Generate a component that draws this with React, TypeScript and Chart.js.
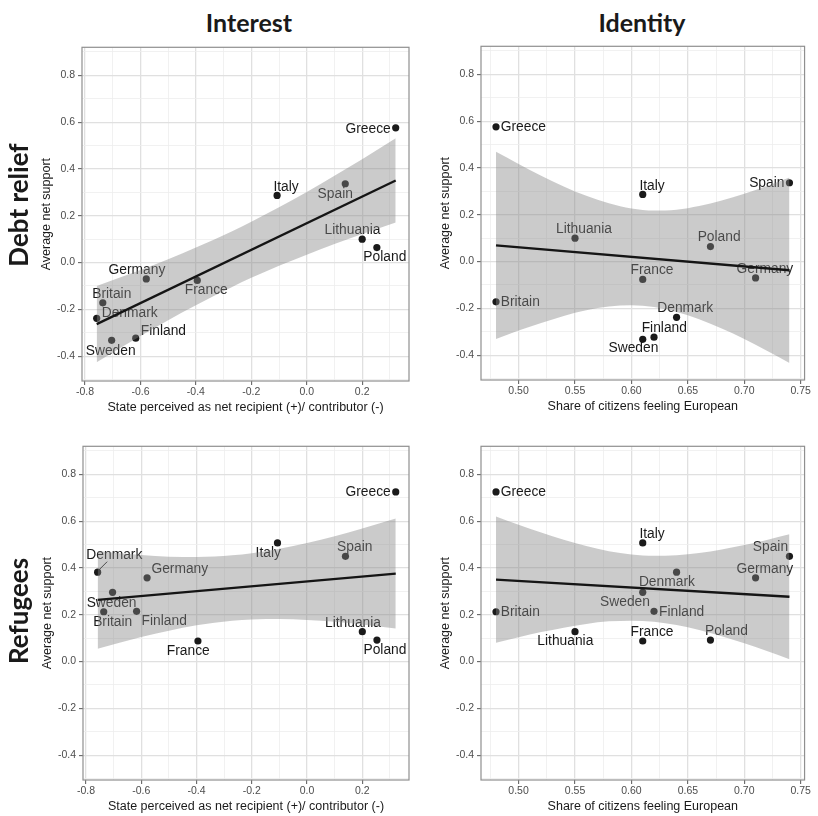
import React, { useEffect, useRef } from 'react';
import { Chart, registerables } from 'chart.js';

Chart.register(...registerables);

// ---------------- data ----------------
const COUNTRIES = ['Greece', 'Italy', 'Spain', 'Lithuania', 'Poland', 'Germany', 'France', 'Britain', 'Denmark', 'Finland', 'Sweden'];
// State perceived as net recipient (+) / contributor (-)
const NET_RECIPIENT = [0.321, -0.107, 0.139, 0.2, 0.253, -0.579, -0.395, -0.736, -0.758, -0.617, -0.704];
// Share of citizens feeling European
const FEEL_EUROPEAN = [0.48, 0.61, 0.74, 0.55, 0.67, 0.71, 0.61, 0.48, 0.64, 0.62, 0.61];
// Average net support
const DEBT_SUPPORT = [0.576, 0.287, 0.337, 0.1, 0.064, -0.07, -0.076, -0.172, -0.238, -0.323, -0.332];
const REFUGEE_SUPPORT = [0.725, 0.507, 0.45, 0.128, 0.092, 0.358, 0.088, 0.213, 0.382, 0.215, 0.296];

// fitted lines
const INTEREST_FIT_X = [-0.758, 0.321];
const EUROPE_FIT_X = [0.48, 0.74];
const DEBT_INTEREST_FIT_Y = [-0.263, 0.351];
const DEBT_EUROPE_FIT_Y = [0.069, -0.037];
const REFUGEE_INTEREST_FIT_Y = [0.2635, 0.376];
const REFUGEE_EUROPE_FIT_Y = [0.35, 0.277];

// confidence bands
const INTEREST_BAND_X = [-0.758, -0.6, -0.5, -0.4, -0.271, -0.2, -0.1, 0, 0.1, 0.2, 0.321];
const DEBT_INTEREST_BAND_UP = [-0.1, -0.032, 0.014, 0.064, 0.133, 0.175, 0.237, 0.302, 0.371, 0.442, 0.531];
const DEBT_INTEREST_BAND_LO = [-0.426, -0.314, -0.246, -0.182, -0.105, -0.065, -0.013, 0.034, 0.079, 0.122, 0.171];
const REFUGEE_INTEREST_BAND_UP = [0.4725, 0.455, 0.448, 0.447, 0.454, 0.463, 0.482, 0.507, 0.536, 0.569, 0.611];
const REFUGEE_INTEREST_BAND_LO = [0.0545, 0.105, 0.132, 0.155, 0.174, 0.18, 0.182, 0.178, 0.17, 0.158, 0.141];

const EUROPE_BAND_X = [0.48, 0.5, 0.52, 0.54, 0.56, 0.58, 0.6, 0.62, 0.64, 0.66, 0.68, 0.7, 0.72, 0.74];
const DEBT_EUROPE_BAND_UP = [0.469, 0.417, 0.367, 0.321, 0.281, 0.249, 0.227, 0.218, 0.222, 0.238, 0.261, 0.29, 0.323, 0.359];
const DEBT_EUROPE_BAND_LO = [-0.331, -0.295, -0.262, -0.232, -0.208, -0.192, -0.187, -0.194, -0.215, -0.246, -0.286, -0.331, -0.381, -0.433];
const REFUGEE_EUROPE_BAND_UP = [0.62, 0.585, 0.552, 0.521, 0.494, 0.472, 0.458, 0.452, 0.454, 0.464, 0.479, 0.498, 0.52, 0.544];
const REFUGEE_EUROPE_BAND_LO = [0.08, 0.104, 0.126, 0.145, 0.161, 0.172, 0.175, 0.17, 0.156, 0.135, 0.108, 0.078, 0.045, 0.01];

// ticks
const Y_TICKS = [-0.4, -0.2, 0, 0.2, 0.4, 0.6, 0.8];
const Y_MINOR = [-0.5, -0.3, -0.1, 0.1, 0.3, 0.5, 0.7, 0.9];
const X_INTEREST_TICKS = [-0.8, -0.6, -0.4, -0.2, 0, 0.2];
const X_INTEREST_MINOR = [-0.7, -0.5, -0.3, -0.1, 0.1, 0.3];
const X_EUROPE_TICKS = [0.5, 0.55, 0.6, 0.65, 0.7, 0.75];
const X_EUROPE_MINOR = [0.475, 0.525, 0.575, 0.625, 0.675, 0.725];

const COL_TITLES = ['Interest', 'Identity'];
const ROW_TITLES = ['Debt relief', 'Refugees'];
const X_TITLE_INTEREST = 'State perceived as net recipient (+)/ contributor (-)';
const X_TITLE_EUROPE = 'Share of citizens feeling European';
const Y_TITLE = 'Average net support';

// ---------------- label layout (px offsets from point) ----------------
type Align = 'left' | 'right' | 'center';
type LabelPos = { dx: number; dy: number; align: Align; seg?: [number, number, number, number] };
const L = (dx: number, dy: number, align: Align = 'center', seg?: [number, number, number, number]): LabelPos => ({ dx, dy, align, seg });

const DI_LABELS: Record<string, LabelPos> = {
  Greece: L(-5, 1, 'right'), Italy: L(9, -8.3), Spain: L(-10, 10.3), Lithuania: L(-9.7, -8.7),
  Poland: L(8, 10), Germany: L(-9.3, -8.3), France: L(9, 9.7), Britain: L(9, -9),
  Denmark: L(5, -5.3, 'left'), Finland: L(5, -6.7, 'left'), Sweden: L(-1, 11),
};
const DE_LABELS: Record<string, LabelPos> = {
  Greece: L(4.7, 0, 'left'), Italy: L(9.3, -8.7), Spain: L(-5, 0.3, 'right'), Lithuania: L(9, -9),
  Poland: L(8.7, -9), France: L(9.3, -8.7), Germany: L(9.3, -8.7), Britain: L(4.7, 0, 'left'),
  Denmark: L(8.7, -9), Finland: L(10.3, -9), Sweden: L(-9.3, 9.3),
};
const RI_LABELS: Record<string, LabelPos> = {
  Greece: L(-5, 0.7, 'right'), Italy: L(-9.3, 10.3), Spain: L(9.3, -8.7), Denmark: L(16.7, -17, 'center', [1, -2, 9.5, -10.5]),
  Germany: L(4.3, -8.3, 'left'), Sweden: L(-1, 10.7), Britain: L(9, 10), Finland: L(5, 9.7, 'left'),
  France: L(-9.7, 10), Lithuania: L(-9.3, -8.7), Poland: L(8, 9.7),
};
const RE_LABELS: Record<string, LabelPos> = {
  Greece: L(4.7, 0.7, 'left'), Italy: L(9.3, -8.7), Spain: L(-19, -8.7), Germany: L(9.3, -8.7),
  Denmark: L(-9.7, 9.7), Sweden: L(-17.7, 10.3), Britain: L(4.7, 0.7, 'left'), Finland: L(5, 1.3, 'left'),
  Lithuania: L(-9.7, 10), France: L(9.3, -8.7), Poland: L(16, -8.7),
};

const SANS = '"Liberation Sans", Arial, Helvetica, sans-serif';
const BOLD = 'Lato, "Open Sans", sans-serif';

const Y_MIN = -0.506;
const Y_MAX = 0.92;
const Y_AXIS_W = 54;
const X_AXIS_H = 36;
const PAD_TOP = 7;
const PAD_RIGHT = 3;

type PanelSpec = {
  left: number; top: number; w: number; h: number;
  xs: number[]; ys: number[];
  xMin: number; xMax: number; xMajor: number[]; xMinor: number[]; xDigits: number; xTitle: string;
  fitX: number[]; fitY: number[];
  bandX: number[]; bandUp: number[]; bandLo: number[];
  labels: Record<string, LabelPos>;
};

const PANELS: PanelSpec[] = [
  {
    left: 82, top: 45, w: 328, h: 336, xs: NET_RECIPIENT, ys: DEBT_SUPPORT,
    xMin: -0.811, xMax: 0.369, xMajor: X_INTEREST_TICKS, xMinor: X_INTEREST_MINOR, xDigits: 1, xTitle: X_TITLE_INTEREST,
    fitX: INTEREST_FIT_X, fitY: DEBT_INTEREST_FIT_Y, bandX: INTEREST_BAND_X, bandUp: DEBT_INTEREST_BAND_UP, bandLo: DEBT_INTEREST_BAND_LO,
    labels: DI_LABELS,
  },
  {
    left: 481, top: 44, w: 328, h: 336, xs: FEEL_EUROPEAN, ys: DEBT_SUPPORT,
    xMin: 0.4667, xMax: 0.7534, xMajor: X_EUROPE_TICKS, xMinor: X_EUROPE_MINOR, xDigits: 2, xTitle: X_TITLE_EUROPE,
    fitX: EUROPE_FIT_X, fitY: DEBT_EUROPE_FIT_Y, bandX: EUROPE_BAND_X, bandUp: DEBT_EUROPE_BAND_UP, bandLo: DEBT_EUROPE_BAND_LO,
    labels: DE_LABELS,
  },
  {
    left: 83, top: 444, w: 327, h: 336, xs: NET_RECIPIENT, ys: REFUGEE_SUPPORT,
    xMin: -0.811, xMax: 0.369, xMajor: X_INTEREST_TICKS, xMinor: X_INTEREST_MINOR, xDigits: 1, xTitle: X_TITLE_INTEREST,
    fitX: INTEREST_FIT_X, fitY: REFUGEE_INTEREST_FIT_Y, bandX: INTEREST_BAND_X, bandUp: REFUGEE_INTEREST_BAND_UP, bandLo: REFUGEE_INTEREST_BAND_LO,
    labels: RI_LABELS,
  },
  {
    left: 481, top: 444, w: 328, h: 336, xs: FEEL_EUROPEAN, ys: REFUGEE_SUPPORT,
    xMin: 0.4667, xMax: 0.7534, xMajor: X_EUROPE_TICKS, xMinor: X_EUROPE_MINOR, xDigits: 2, xTitle: X_TITLE_EUROPE,
    fitX: EUROPE_FIT_X, fitY: REFUGEE_EUROPE_FIT_Y, bandX: EUROPE_BAND_X, bandUp: REFUGEE_EUROPE_BAND_UP, bandLo: REFUGEE_EUROPE_BAND_LO,
    labels: RE_LABELS,
  },
];

const isIn = (arr: number[], v: number) => arr.some((a) => Math.abs(a - v) < 1e-6);

const GRID_MAJOR = '#e0e0e0';
const GRID_MINOR = '#ededed';

function buildConfig(p: PanelSpec): any {
  const points = p.xs.map((x, i) => ({ x, y: p.ys[i] }));
  const fit = p.fitX.map((x, i) => ({ x, y: p.fitY[i] }));
  const up = p.bandX.map((x, i) => ({ x, y: p.bandUp[i] }));
  const lo = p.bandX.map((x, i) => ({ x, y: p.bandLo[i] }));
  const xGrid = [...p.xMajor, ...p.xMinor].sort((a, b) => a - b);
  const yGrid = [...Y_TICKS, ...Y_MINOR].sort((a, b) => a - b);

  const labelPlugin = {
    id: 'countryLabels',
    beforeDatasetsDraw(chart: any) {
      const { ctx } = chart;
      const xs = chart.scales.x;
      const ys = chart.scales.y;
      ctx.save();
      ctx.font = `13.8px ${SANS}`;
      ctx.fillStyle = '#1a1a1a';
      ctx.strokeStyle = '#1a1a1a';
      ctx.textBaseline = 'middle';
      COUNTRIES.forEach((name, i) => {
        const pos = p.labels[name];
        if (!pos) return;
        const px = xs.getPixelForValue(p.xs[i]);
        const py = ys.getPixelForValue(p.ys[i]);
        ctx.textAlign = pos.align;
        ctx.fillText(name, px + pos.dx, py + pos.dy);
        if (pos.seg) {
          ctx.lineWidth = 1;
          ctx.beginPath();
          ctx.moveTo(px + pos.seg[0], py + pos.seg[1]);
          ctx.lineTo(px + pos.seg[2], py + pos.seg[3]);
          ctx.stroke();
        }
      });
      ctx.restore();
    },
  };

  const borderPlugin = {
    id: 'panelBorder',
    afterDraw(chart: any) {
      const { ctx, chartArea: a } = chart;
      ctx.save();
      ctx.strokeStyle = '#8f8f8f';
      ctx.lineWidth = 1.2;
      ctx.strokeRect(a.left, a.top, a.right - a.left, a.bottom - a.top);
      ctx.restore();
    },
  };

  return {
    type: 'scatter',
    data: {
      datasets: [
        { type: 'line', data: fit, borderColor: '#151515', borderWidth: 2.3, pointRadius: 0, fill: false, order: 0 },
        {
          type: 'line', data: up, borderColor: 'rgba(0,0,0,0)', borderWidth: 0, pointRadius: 0,
          fill: '+1', backgroundColor: 'rgba(135,135,135,0.43)', cubicInterpolationMode: 'monotone', order: 1,
        },
        {
          type: 'line', data: lo, borderColor: 'rgba(0,0,0,0)', borderWidth: 0, pointRadius: 0,
          fill: false, cubicInterpolationMode: 'monotone', order: 2,
        },
        {
          type: 'scatter', data: points, pointRadius: 3.6, pointBackgroundColor: '#1a1a1a',
          backgroundColor: '#1a1a1a', borderWidth: 0, pointBorderWidth: 0, order: 3,
        },
      ],
    },
    options: {
      animation: false,
      responsive: false,
      maintainAspectRatio: false,
      events: [],
      layout: { padding: { left: 0, right: PAD_RIGHT, top: PAD_TOP, bottom: 0 } },
      plugins: { legend: { display: false }, tooltip: { enabled: false } },
      scales: {
        x: {
          type: 'linear',
          min: p.xMin,
          max: p.xMax,
          afterBuildTicks: (s: any) => { s.ticks = xGrid.map((v) => ({ value: v })); },
          afterFit: (s: any) => { s.height = X_AXIS_H; },
          border: { display: false },
          ticks: {
            autoSkip: false, maxRotation: 0, minRotation: 0, padding: 1,
            color: '#4d4d4d', font: { family: SANS, size: 10.5 },
            callback: (v: number) => (isIn(p.xMajor, v) ? Number(v).toFixed(p.xDigits) : ''),
          },
          grid: {
            color: (c: any) => (c.tick && isIn(p.xMajor, c.tick.value) ? GRID_MAJOR : GRID_MINOR),
            lineWidth: (c: any) => (c.tick && isIn(p.xMajor, c.tick.value) ? 1.3 : 0.8),
            tickLength: 4,
            tickColor: (c: any) => (c.tick && isIn(p.xMajor, c.tick.value) ? '#555' : 'rgba(0,0,0,0)'),
            tickWidth: 1,
          },
          title: {
            display: true, text: p.xTitle, color: '#1a1a1a',
            font: { family: SANS, size: 12.5 }, padding: { top: 0, bottom: 1.5 },
          },
        },
        y: {
          type: 'linear',
          min: Y_MIN,
          max: Y_MAX,
          afterBuildTicks: (s: any) => { s.ticks = yGrid.map((v) => ({ value: v })); },
          afterFit: (s: any) => { s.width = Y_AXIS_W; },
          border: { display: false },
          ticks: {
            autoSkip: false, padding: 3,
            color: '#4d4d4d', font: { family: SANS, size: 10.5 },
            callback: (v: number) => (isIn(Y_TICKS, v) ? Number(v).toFixed(1) : ''),
          },
          grid: {
            color: (c: any) => (c.tick && isIn(Y_TICKS, c.tick.value) ? GRID_MAJOR : GRID_MINOR),
            lineWidth: (c: any) => (c.tick && isIn(Y_TICKS, c.tick.value) ? 1.3 : 0.8),
            tickLength: 4,
            tickColor: (c: any) => (c.tick && isIn(Y_TICKS, c.tick.value) ? '#555' : 'rgba(0,0,0,0)'),
            tickWidth: 1,
          },
          title: {
            display: true, text: Y_TITLE, color: '#1a1a1a',
            font: { family: SANS, size: 12.5 }, padding: { top: 11.5, bottom: 0 },
          },
        },
      },
    },
    plugins: [labelPlugin, borderPlugin],
  };
}

function Panel({ spec }: { spec: PanelSpec }) {
  const ref = useRef<HTMLCanvasElement>(null);
  const cw = spec.w + Y_AXIS_W + PAD_RIGHT;
  const ch = spec.h + PAD_TOP + X_AXIS_H;
  useEffect(() => {
    if (!ref.current) return;
    const chart = new Chart(ref.current, buildConfig(spec));
    return () => chart.destroy();
  }, [spec]);
  return (
    <canvas
      ref={ref}
      width={cw}
      height={ch}
      style={{ position: 'absolute', left: spec.left - Y_AXIS_W, top: spec.top - PAD_TOP, width: cw, height: ch }}
    />
  );
}

const boldText: React.CSSProperties = {
  position: 'absolute',
  fontFamily: BOLD,
  fontWeight: 700,
  fontSize: 25,
  lineHeight: '1',
  color: '#1a1a1a',
  whiteSpace: 'nowrap',
};

export default function App() {
  return (
    <div style={{ position: 'absolute', left: 0, top: 0, width: 818, height: 816, overflow: 'hidden', background: '#fff' }}>
      {PANELS.map((p, i) => (
        <Panel key={i} spec={p} />
      ))}
      <div style={{ ...boldText, left: 249, top: 22, transform: 'translate(-50%, -50%)' }}>{COL_TITLES[0]}</div>
      <div style={{ ...boldText, left: 642, top: 22, transform: 'translate(-50%, -50%)' }}>{COL_TITLES[1]}</div>
      <div style={{ ...boldText, fontSize: 26, left: 18, top: 205, transform: 'translate(-50%, -50%) rotate(-90deg)' }}>{ROW_TITLES[0]}</div>
      <div style={{ ...boldText, fontSize: 26, left: 18, top: 611, transform: 'translate(-50%, -50%) rotate(-90deg)' }}>{ROW_TITLES[1]}</div>
    </div>
  );
}
